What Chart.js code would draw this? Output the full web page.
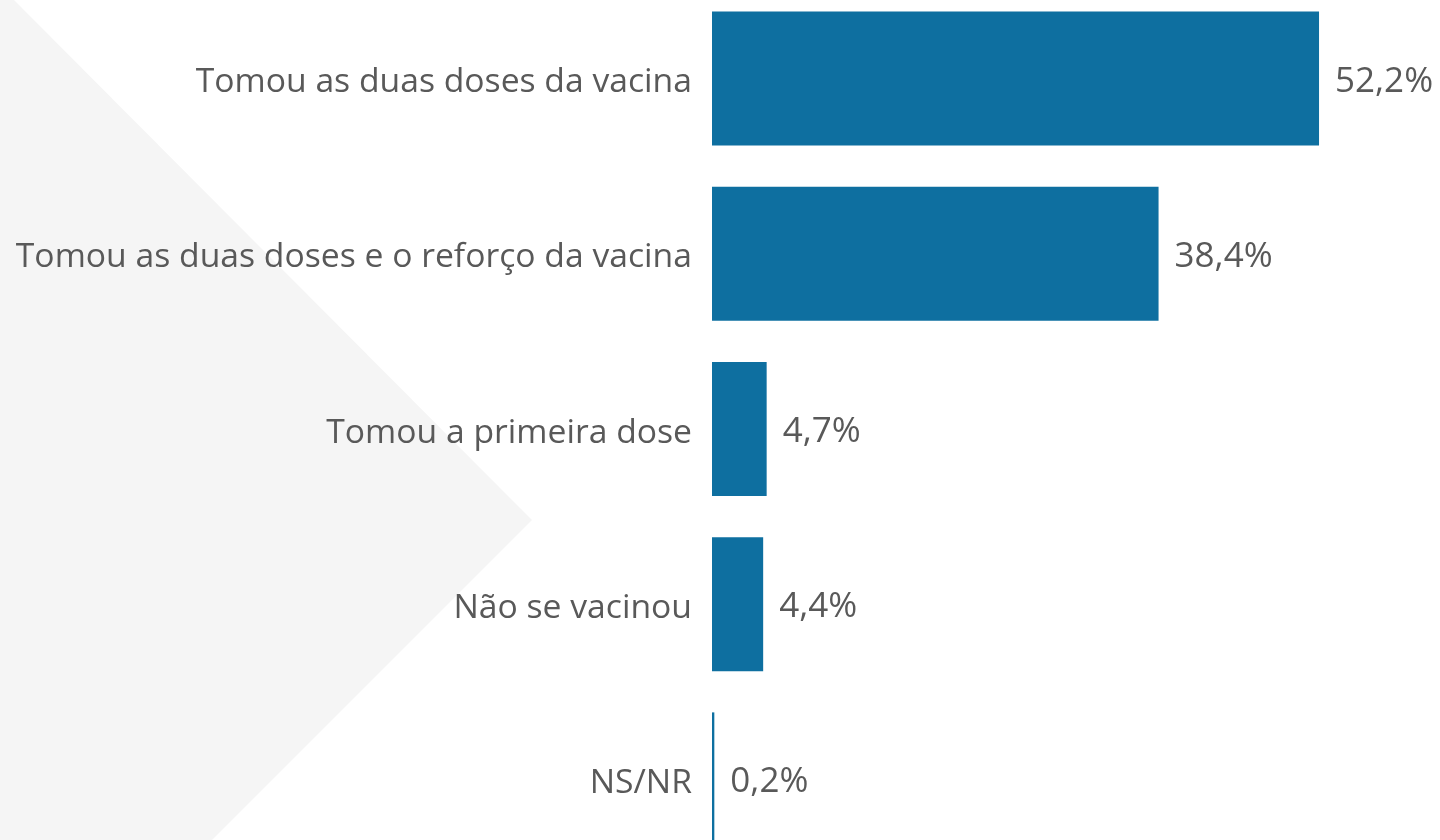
<!DOCTYPE html>
<html>
<head>
<meta charset="utf-8">
<script src="https://cdn.jsdelivr.net/npm/chart.js@4"></script>
<style>
  html, body { margin: 0; padding: 0; background: #ffffff; overflow: hidden; }
  body { width: 1440px; height: 840px; position: relative; }
  .backdrop {
    position: absolute; left: 0; top: 0; width: 1440px; height: 840px;
    background: #f5f5f5;
    clip-path: polygon(0 0, 14px 0, 532px 520px, 212px 840px, 0 840px);
  }
  .chart-box { position: absolute; left: 0; top: -9px; width: 1440px; height: 876px; }
  .chart-box canvas { display: block; }
</style>
</head>
<body>
<div class="backdrop"></div>
<div class="chart-box">
  <canvas id="vaccineChart" width="1440" height="876"></canvas>
</div>
<script>
const categories = [
  'Tomou as duas doses da vacina',
  'Tomou as duas doses e o reforço da vacina',
  'Tomou a primeira dose',
  'Não se vacinou',
  'NS/NR'
];
const percentages = [52.2, 38.4, 4.7, 4.4, 0.2];

const textColor = '#595959';
const barColor = '#0e6fa0';
const fontFamily = '"Open Sans", "DejaVu Sans", sans-serif';

// writes "52,2%" etc. to the right of each bar
const valueLabels = {
  id: 'valueLabels',
  afterDatasetsDraw(chart) {
    const ctx = chart.ctx;
    const meta = chart.getDatasetMeta(0);
    ctx.save();
    ctx.font = '35px ' + fontFamily;
    ctx.fillStyle = textColor;
    ctx.textAlign = 'left';
    ctx.textBaseline = 'middle';
    meta.data.forEach((bar, i) => {
      const text = percentages[i].toFixed(1).replace('.', ',') + '%';
      ctx.fillText(text, bar.x + 16, bar.y + 3);
    });
    ctx.restore();
  }
};

new Chart(document.getElementById('vaccineChart').getContext('2d'), {
  type: 'bar',
  data: {
    labels: categories,
    datasets: [{
      data: percentages,
      backgroundColor: barColor,
      borderWidth: 0,
      barPercentage: 0.765,
      categoryPercentage: 1
    }]
  },
  options: {
    indexAxis: 'y',
    responsive: false,
    animation: false,
    layout: { padding: { left: 0, right: 7, top: 0, bottom: 0 } },
    plugins: {
      legend: { display: false },
      tooltip: { enabled: false }
    },
    scales: {
      x: {
        display: false,
        min: 0,
        max: 62
      },
      y: {
        afterFit: scale => {
          scale.width = 712;
          scale.paddingTop = 0;
          scale.paddingBottom = 0;
        },
        border: { display: false },
        grid: { display: false, drawTicks: false },
        ticks: {
          color: textColor,
          padding: 20,
          labelOffset: 4,
          font: { family: fontFamily, size: 33.7 }
        }
      }
    }
  },
  plugins: [valueLabels]
});
</script>
</body>
</html>
